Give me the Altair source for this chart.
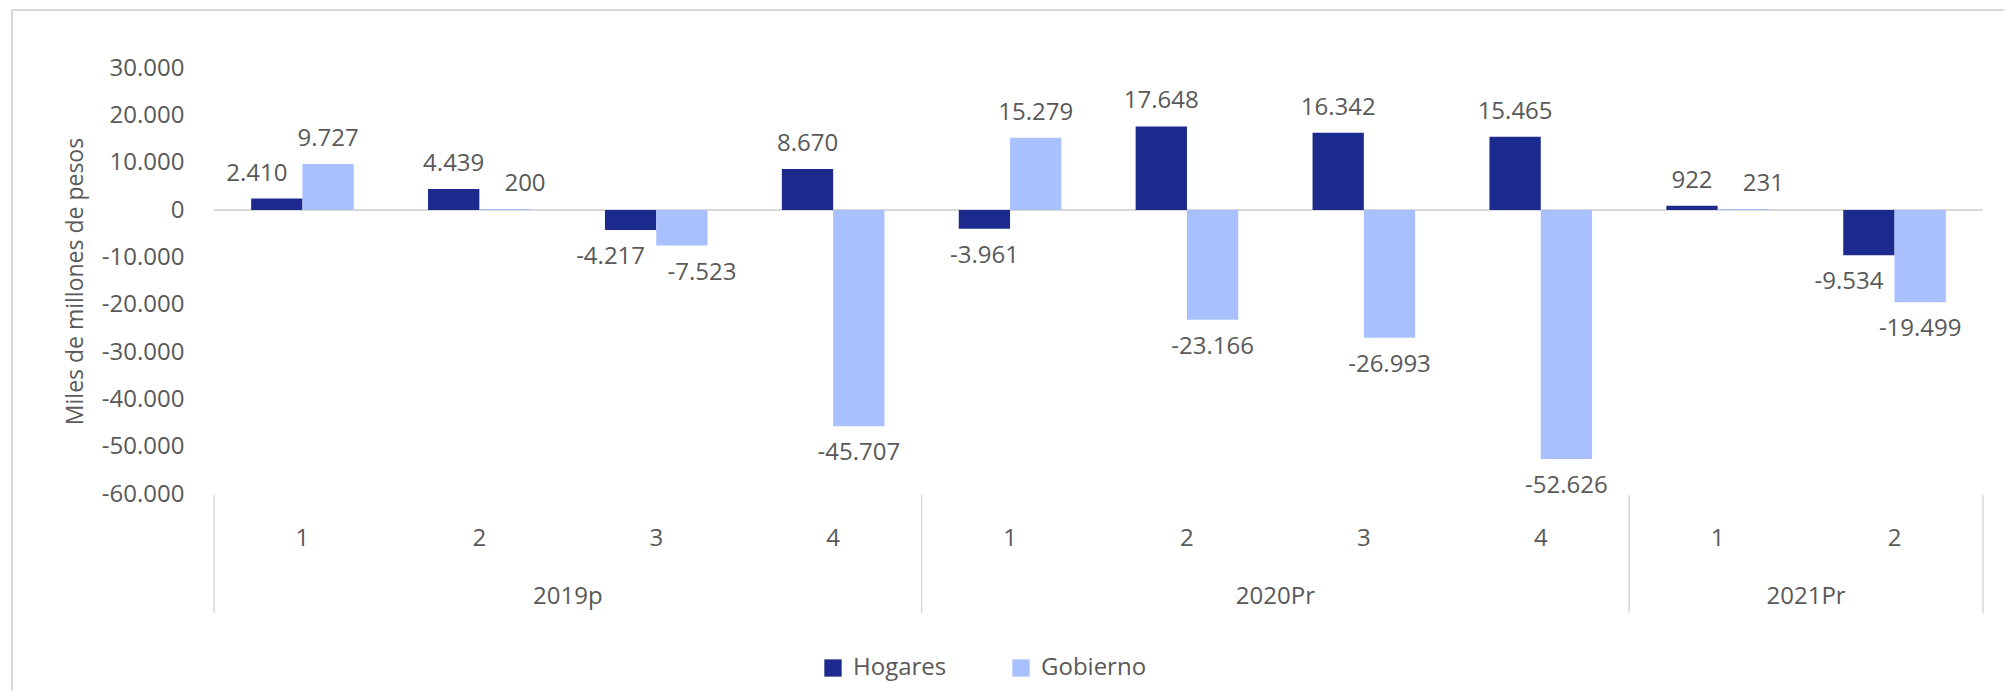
import altair as alt
import pandas as pd

# ---- data ----
years = ["2019p", "2019p", "2019p", "2019p", "2020Pr", "2020Pr", "2020Pr", "2020Pr", "2021Pr", "2021Pr"]
quarters = ["1", "2", "3", "4", "1", "2", "3", "4", "1", "2"]
hogares = [2410, 4439, -4217, 8670, -3961, 17648, 16342, 15465, 922, -9534]
gobierno = [9727, 200, -7523, -45707, 15279, -23166, -26993, -52626, 231, -19499]
series_names = ["Hogares", "Gobierno"]
series_colors = ["#1B2A8C", "#A9C0FF"]
y_ticks = [-60000, -50000, -40000, -30000, -20000, -10000, 0, 10000, 20000, 30000]


def fmt(v):
    return f"{v:,}".replace(",", ".")


cats = [f"{y}|{q}" for y, q in zip(years, quarters)]
rows = []
for c, h, g in zip(cats, hogares, gobierno):
    # label collision avoidance (like Excel): when both bars point the same way,
    # push the shorter bar's label outward; if the ends are close, push both.
    sh_h, sh_g = 0, 0
    if h * g > 0:
        close = abs(abs(h) - abs(g)) < 5000 and h < 0
        if abs(h) < abs(g) or close:
            sh_h = -1
        if abs(g) < abs(h) or close:
            sh_g = 1
    rows.append({"cat": c, "serie": "Hogares", "valor": h, "etiqueta": fmt(h), "shift": sh_h})
    rows.append({"cat": c, "serie": "Gobierno", "valor": g, "etiqueta": fmt(g), "shift": sh_g})
df = pd.DataFrame(rows)

# year groups: centre and boundaries in category units
year_names = []
counts = []
for y in years:
    if not year_names or year_names[-1] != y:
        year_names.append(y)
        counts.append(0)
    counts[-1] += 1
centers, bounds = [], [0]
start = 0
for n in counts:
    centers.append(start + n / 2)
    start += n
    bounds.append(start)
years_df = pd.DataFrame({"anio": year_names, "pos": centers})
bounds_df = pd.DataFrame({"pos": bounds})

W, H = 1769, 426
GRAY = "#595959"
FS = 24

x_enc = alt.X(
    "cat:N",
    sort=cats,
    scale=alt.Scale(paddingInner=0.42, paddingOuter=0.21),
    axis=alt.Axis(
        title=None,
        labelExpr="slice(datum.value, indexof(datum.value, '|') + 1)",
        domain=False,
        ticks=False,
        tickSize=0,
        grid=False,
        labelAngle=0,
        labelBaseline="middle",
        labelPadding=44,
        labelFontSize=FS,
        labelColor=GRAY,
    ),
)
y_scale = alt.Scale(domain=[-60000, 30000], nice=False, zero=False)
y_enc = alt.Y(
    "valor:Q",
    scale=y_scale,
    axis=alt.Axis(
        values=y_ticks,
        labelExpr="(datum.value < 0 ? '-' : '') + replace(format(abs(datum.value), ',d'), ',', '.')",
        grid=False,
        domain=False,
        ticks=False,
        labelPadding=30,
        labelFontSize=FS,
        labelColor=GRAY,
        title="Miles de millones de pesos",
        titleFontSize=23,
        titleFontWeight="normal",
        titleColor=GRAY,
        titlePadding=14,
    ),
)
xoff = alt.XOffset("serie:N", sort=series_names, scale=alt.Scale(paddingInner=0))

base = alt.Chart(df)

zero = alt.Chart(df).mark_rule(color="#D9D9D9", strokeWidth=2).encode(
    y=alt.datum(0), x=alt.value(0), x2=alt.value(W)
)

bars = base.mark_bar().encode(
    x=x_enc,
    xOffset=xoff,
    y=y_enc,
    y2=alt.datum(0),
    color=alt.Color(
        "serie:N",
        sort=series_names,
        scale=alt.Scale(domain=series_names, range=series_colors),
        legend=alt.Legend(
            title=None,
            orient="none",
            legendX=607,
            legendY=588,
            direction="horizontal",
            symbolType="square",
            symbolSize=300,
            symbolStrokeWidth=0,
            labelFontSize=FS,
            labelColor=GRAY,
            labelOffset=8,
            columnPadding=62,
            padding=0,
        ),
    ),
)

label_layers = []
for sign, dy in [(1, -25), (-1, 27)]:
    for sh in (-1, 0, 1):
        cond = ("datum.valor >= 0" if sign > 0 else "datum.valor < 0") + f" && datum.shift == {sh}"
        label_layers.append(
            base.transform_filter(cond)
            .mark_text(fontSize=FS, color=GRAY, baseline="middle", dy=dy, dx=sh * 20)
            .encode(x=x_enc, xOffset=xoff, y=y_enc, text="etiqueta:N")
        )

main = alt.layer(zero, bars, *label_layers)

qx = alt.X("pos:Q", scale=alt.Scale(domain=[0, 10], nice=False, zero=False), axis=None)

year_text = alt.Chart(years_df).mark_text(fontSize=FS, color=GRAY, baseline="middle").encode(
    x=qx, y=alt.value(529), text="anio:N"
)
seps = alt.Chart(bounds_df).mark_rule(color="#D9D9D9", strokeWidth=1.5).encode(
    x=qx, y=alt.value(427), y2=alt.value(545)
)

border_left = alt.Chart(bounds_df).mark_rule(color="#D9D9D9", strokeWidth=2).encode(
    x=alt.value(-202), y=alt.value(-58), y2=alt.value(640)
)
border_top = alt.Chart(bounds_df).mark_rule(color="#D9D9D9", strokeWidth=2).encode(
    x=alt.value(-202), x2=alt.value(1800), y=alt.value(-58)
)

chart = (
    alt.layer(main, year_text, seps, border_left, border_top)
    .resolve_scale(x="independent")
    .properties(
        width=W,
        height=H,
        autosize=alt.AutoSizeParams(type="none"),
        padding={"left": 206, "top": 60, "right": 21, "bottom": 197},
        background="white",
    )
    .configure(font="Open Sans")
    .configure_view(strokeWidth=0)
)

chart.save("out.html", embed_options={"renderer": "svg", "actions": False})
